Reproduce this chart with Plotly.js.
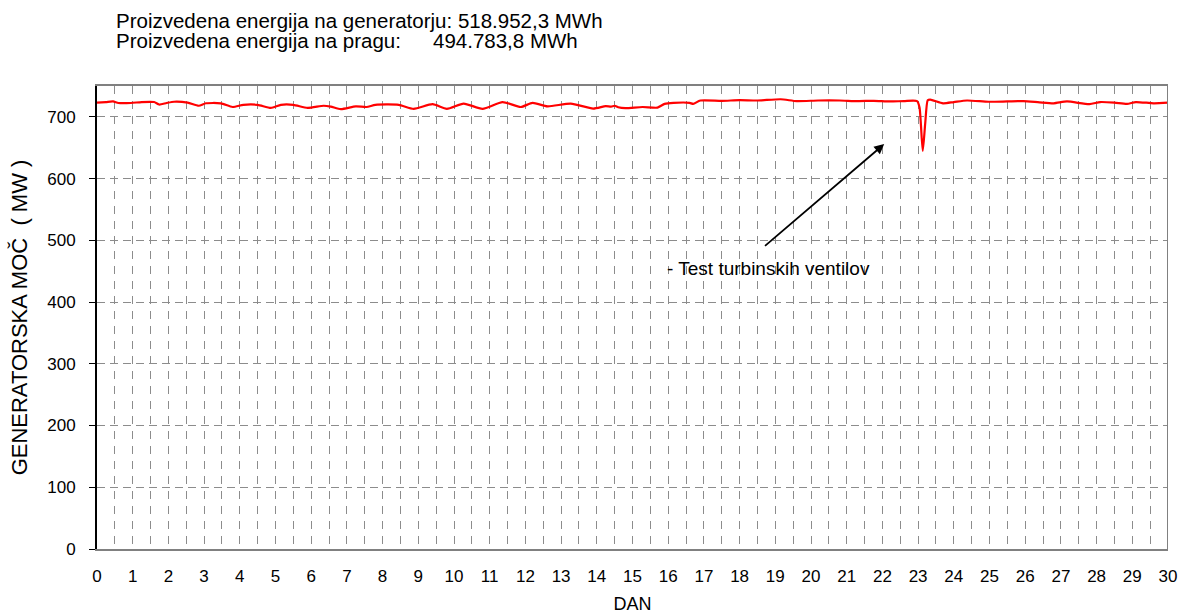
<!DOCTYPE html>
<html>
<head>
<meta charset="utf-8">
<script src="https://cdn.plot.ly/plotly-3.0.1.min.js"></script>
<style>html,body{margin:0;padding:0;background:#fff;}#chart{width:1179px;height:614px;}</style>
</head>
<body>
<div id="chart"></div>
<script>
// Day of month (DAN)
var days = [0, 0.25, 0.45, 0.6, 0.95, 1.25, 1.6, 1.74, 1.95, 2.16, 2.54, 2.85, 3.05, 3.47, 3.8, 4.1, 4.5, 4.87, 5.15, 5.5, 5.9, 6.35, 6.55, 6.83, 7.25, 7.55, 7.8, 8.45, 8.87, 9.4, 9.8, 10.27, 10.8, 11.36, 11.87, 12.2, 12.62, 13.27, 13.9, 14.25, 14.4, 14.5, 14.6, 14.8, 15.28, 15.7, 15.9, 16.15, 16.6, 16.7, 16.9, 17.5, 18, 18.5, 19.15, 19.6, 20.2, 20.8, 21.3, 21.76, 22.2, 22.6, 22.97, 23.04, 23.13, 23.2, 23.27, 23.34, 23.7, 24.0, 24.37, 24.97, 25.5, 25.95, 26.4, 26.8, 27.17, 27.8, 28.1, 28.5, 28.85, 29.1, 29.6, 30];
// Generator power (MW)
var power = [723, 724, 725, 722.5, 722.5, 724, 724, 720, 722.5, 724.5, 723, 718, 722, 722, 716, 719.5, 719.5, 714.5, 719.5, 719.5, 714.5, 718, 716.5, 712.5, 717, 716, 719.5, 719.5, 713, 720.5, 713, 721.5, 713, 724, 716, 722.7, 717, 721.5, 713.5, 717.5, 716.5, 718, 715.5, 714, 716, 715, 721, 722.7, 722.7, 721, 726.5, 726, 727, 726.5, 728.5, 725.5, 726.5, 726.5, 725.5, 726, 725, 725.5, 725.5, 715, 645, 690, 727, 728, 722, 724, 726.5, 724.5, 725, 725.5, 723.5, 722, 725, 720.5, 724, 723, 721, 724, 722, 723];

var xTicks = [0,1,2,3,4,5,6,7,8,9,10,11,12,13,14,15,16,17,18,19,20,21,22,23,24,25,26,27,28,29,30];
var yTicks = [0,100,200,300,400,500,600,700];

var titleLine1 = "Proizvedena energija na generatorju: 518.952,3 MWh";
var titleLine2a = "Proizvedena energija na pragu:";
var titleLine2b = "494.783,8 MWh";
var noteText = "- Test turbinskih ventilov";
var xTitle = "DAN";
var yTitle = "GENERATORSKA MOČ  ( MW )";

var font = "Liberation Sans, Arial, sans-serif";

var W = 1179, H = 614, ML = 97, MR = 11, MT = 86, MB = 65;
var plotW = W - ML - MR, plotH = H - MT - MB;
function px(xp) { return (xp - ML) / plotW; }
function py(yp) { return (H - MB - yp) / plotH; }

var trace = {
  x: days, y: power, type: 'scatter', mode: 'lines',
  line: {color: '#ff0000', width: 2.2, shape: 'spline', smoothing: 0.6},
  hoverinfo: 'x+y'
};

var layout = {
  width: W, height: H,
  margin: {l: ML, r: MR, t: MT, b: MB},
  paper_bgcolor: '#ffffff', plot_bgcolor: '#ffffff',
  showlegend: false,
  font: {family: font, color: '#000', size: 17},
  xaxis: {
    range: [0, 30], tickvals: xTicks, ticktext: xTicks.map(String),
    showgrid: true, gridcolor: '#8c8c8c', gridwidth: 1, griddash: '8px,7px',
    minor: {dtick: 0.5, tick0: 0, showgrid: true, gridcolor: '#8c8c8c', gridwidth: 1, griddash: '8px,7px', ticks: ''},
    showline: true, linecolor: '#808080', linewidth: 2, mirror: true,
    ticks: '', ticklabelstandoff: 11, zeroline: false,
    tickfont: {family: font, size: 17, color: '#000'},
    title: {text: xTitle, font: {family: font, size: 18, color: '#000'}, standoff: 13}
  },
  yaxis: {
    range: [0, 750], tickvals: yTicks, ticktext: yTicks.map(String),
    showgrid: true, gridcolor: '#8c8c8c', gridwidth: 1, griddash: '8px,5px',
    showline: true, linecolor: '#000000', linewidth: 2,
    ticks: 'outside', ticklen: 6, tickwidth: 1, tickcolor: '#000',
    ticklabelstandoff: 10, zeroline: false,
    tickfont: {family: font, size: 17, color: '#000'},
    title: {text: yTitle, font: {family: font, size: 22, color: '#000'}, standoff: 14}
  },
  shapes: [
    {type: 'line', xref: 'x', yref: 'paper', x0: 30, x1: 30, y0: 0, y1: 1, line: {color: '#808080', width: 2}}
  ],
  annotations: [
    {xref: 'paper', yref: 'paper', x: px(114), y: py(20), xanchor: 'left', yanchor: 'middle', showarrow: false,
     text: titleLine1, font: {family: font, size: 20.5, color: '#000'}},
    {xref: 'paper', yref: 'paper', x: px(114), y: py(41), xanchor: 'left', yanchor: 'middle', showarrow: false,
     text: titleLine2a, font: {family: font, size: 20.5, color: '#000'}},
    {xref: 'paper', yref: 'paper', x: px(431), y: py(41), xanchor: 'left', yanchor: 'middle', showarrow: false,
     text: titleLine2b, font: {family: font, size: 20.5, color: '#000'}},
    {xref: 'x', yref: 'y', x: 22.05, y: 656, ax: 18.67, ay: 489, axref: 'x', ayref: 'y',
     showarrow: true, arrowhead: 2, arrowsize: 1.1, arrowwidth: 1.8, arrowcolor: '#000', text: ''},
    {xref: 'x', yref: 'y', x: 21.72, y: 455, xanchor: 'right', yanchor: 'middle', showarrow: false,
     text: noteText, font: {family: font, size: 19, color: '#000'}}
  ]
};

Plotly.newPlot('chart', [trace], layout, {displayModeBar: false, staticPlot: true});
</script>
</body>
</html>
